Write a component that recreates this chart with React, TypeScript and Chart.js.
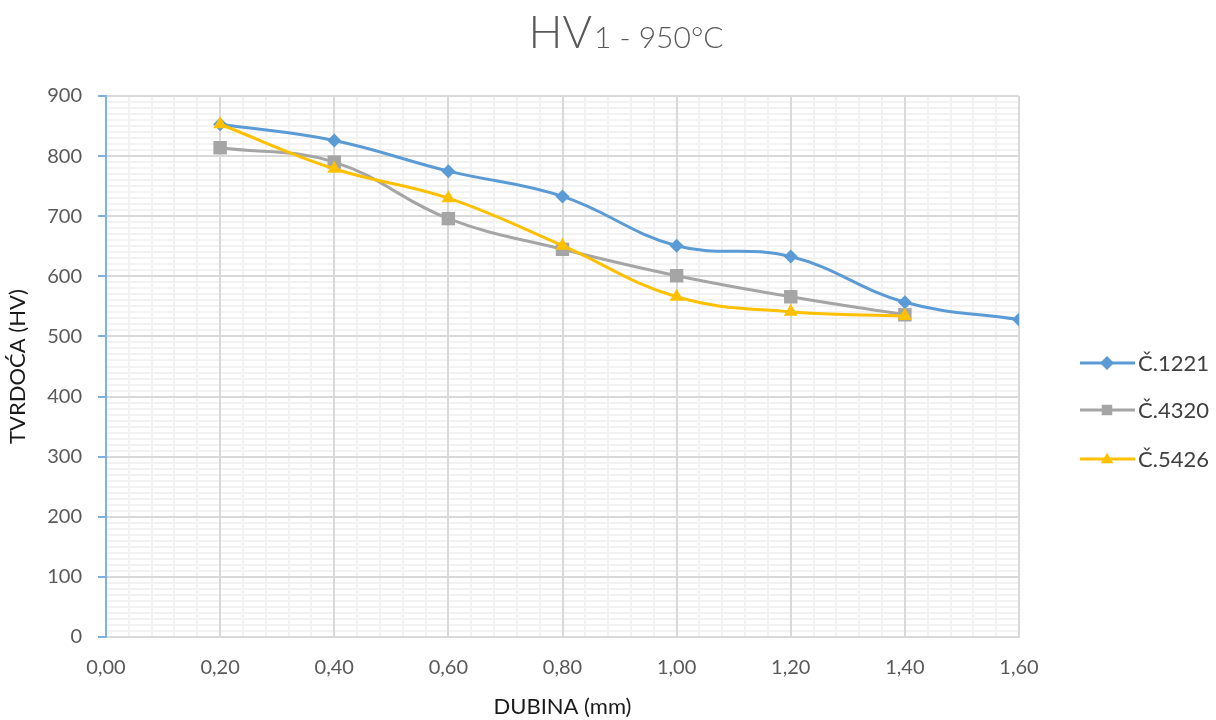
import React, { useEffect, useRef } from "react";
import { Chart, registerables } from "chart.js";

Chart.register(...registerables);

const xValues = [0.2, 0.4, 0.6, 0.8, 1.0, 1.2, 1.4, 1.6];
const seriesNames = ["Č.1221", "Č.4320", "Č.5426"];
const s1221 = [853, 826, 775, 733, 651, 633, 557, 528];
const s4320 = [814, 790, 696, 645, 601, 566, 536];
const s5426 = [853, 779, 730, 651, 566, 541, 534];
const colors = ["#5B9BD5", "#A5A5A5", "#FFC000"];
const markers = ["rectRot", "rect", "triangle"];

const titleMain = "HV";
const titleSub = "1 - 950°C";
const xTitle = "DUBINA (mm)";
const yTitle = "TVRDOĆA (HV)";

const isMajor = (v: number, step: number) => Math.abs(v / step - Math.round(v / step)) < 1e-6;

function drawMarker(ctx: CanvasRenderingContext2D, type: string, x: number, y: number, r: number) {
  ctx.beginPath();
  if (type === "rectRot") {
    ctx.moveTo(x - r, y);
    ctx.lineTo(x, y - r);
    ctx.lineTo(x + r, y);
    ctx.lineTo(x, y + r);
  } else if (type === "rect") {
    const s = r * 0.75;
    ctx.rect(x - s, y - s, 2 * s, 2 * s);
  } else {
    const h = r * 1.5;
    ctx.moveTo(x, y - h * 0.6);
    ctx.lineTo(x + r * 0.9, y + h * 0.4);
    ctx.lineTo(x - r * 0.9, y + h * 0.4);
  }
  ctx.closePath();
  ctx.fill();
}

const majorGridPlugin = {
  id: "majorGrid",
  beforeDatasetsDraw(chart: any) {
    const ctx = chart.ctx as CanvasRenderingContext2D;
    const area = chart.chartArea;
    const xs = chart.scales.x;
    const ys = chart.scales.y;
    ctx.save();
    ctx.strokeStyle = "#d9d9d9";
    ctx.lineWidth = 2;
    xs.ticks.forEach((t: any) => {
      if (!isMajor(t.value, 0.2) || t.value === 0) return;
      const px = Math.round(xs.getPixelForValue(t.value));
      ctx.beginPath();
      ctx.moveTo(px, area.top);
      ctx.lineTo(px, area.bottom);
      ctx.stroke();
    });
    ys.ticks.forEach((t: any) => {
      if (!isMajor(t.value, 100) || t.value === 0) return;
      const py = Math.round(ys.getPixelForValue(t.value));
      ctx.beginPath();
      ctx.moveTo(area.left + 1, py);
      ctx.lineTo(area.right, py);
      ctx.stroke();
    });
    ctx.restore();
  },
};

const overlayPlugin = {
  id: "overlay",
  afterDraw(chart: any) {
    const ctx = chart.ctx as CanvasRenderingContext2D;
    ctx.save();
    ctx.fillStyle = "#595959";
    ctx.textBaseline = "alphabetic";
    ctx.textAlign = "left";
    ctx.font = "300 45px Lato";
    const w1 = ctx.measureText(titleMain).width;
    ctx.font = "300 30px Lato";
    const w2 = ctx.measureText(titleSub).width;
    const gap = 2;
    const start = 626 - (w1 + gap + w2) / 2;
    ctx.font = "300 45px Lato";
    ctx.fillText(titleMain, start, 48);
    ctx.font = "300 30px Lato";
    ctx.fillText(titleSub, start + w1 + gap, 48);

    const ys = [363, 410, 459];
    ctx.font = "22px Lato";
    ctx.textBaseline = "middle";
    seriesNames.forEach((name, i) => {
      const y = ys[i];
      ctx.strokeStyle = colors[i];
      ctx.lineWidth = 3;
      ctx.beginPath();
      ctx.moveTo(1080, y);
      ctx.lineTo(1135, y);
      ctx.stroke();
      ctx.fillStyle = colors[i];
      drawMarker(ctx, markers[i], 1107, y, 7);
      ctx.fillStyle = "#404040";
      ctx.fillText(name, 1138, y + 1);
    });
    ctx.restore();
  },
};

export default function App() {
  const ref = useRef<HTMLCanvasElement | null>(null);

  useEffect(() => {
    document.body.style.margin = "0";
    const canvas = ref.current;
    if (!canvas) return;
    const seriesData = [s1221, s4320, s5426];
    const radii = [7, 9.5, 8];
    const chart = new Chart(canvas, {
      type: "line",
      data: {
        datasets: seriesData.map((s, i) => ({
          label: seriesNames[i],
          data: s.map((y, j) => ({ x: xValues[j], y })),
          borderColor: colors[i],
          backgroundColor: colors[i],
          borderWidth: 3,
          pointStyle: markers[i] as any,
          pointRadius: radii[i],
          pointBorderWidth: 0,
          pointBackgroundColor: colors[i],
          tension: 0.4,
          fill: false,
          order: 2 - i,
        })),
      },
      options: {
        animation: false,
        responsive: true,
        maintainAspectRatio: false,
        layout: { padding: { top: 96, right: 197, left: 0, bottom: 0 } },
        plugins: {
          legend: { display: false },
          title: { display: false },
          tooltip: { enabled: false },
        },
        scales: {
          x: {
            type: "linear",
            min: 0,
            max: 1.6,
            afterFit: (s: any) => {
              s.height = 83;
            },
            ticks: {
              stepSize: 0.04,
              autoSkip: false,
              maxRotation: 0,
              padding: 19,
              color: "#595959",
              font: { family: "Lato", size: 20 },
              callback: (v: any) => (isMajor(Number(v), 0.2) ? Number(v).toFixed(2).replace(".", ",") : ""),
            },
            grid: {
              drawTicks: false,
              color: (c: any) => (c.tick && isMajor(c.tick.value, 0.2) ? "#d9d9d9" : "#f2f2f2"),
              lineWidth: 2,
            },
            border: { color: "#d9d9d9", width: 2 },
            title: {
              display: true,
              text: xTitle,
              color: "#1a1a1a",
              font: { family: "Lato", size: 22 },
              padding: { top: 0, bottom: 0 },
            },
          },
          y: {
            type: "linear",
            min: 0,
            max: 900,
            afterFit: (s: any) => {
              s.width = 106;
            },
            ticks: {
              stepSize: 10,
              autoSkip: false,
              padding: 16,
              color: "#595959",
              font: { family: "Lato", size: 20 },
              callback: (v: any) => (isMajor(Number(v), 100) ? String(Math.round(Number(v))) : ""),
            },
            grid: {
              drawTicks: true,
              tickLength: 8,
              color: (c: any) => (c.tick && isMajor(c.tick.value, 100) ? "#d9d9d9" : "#f2f2f2"),
              tickColor: (c: any) => (c.tick && isMajor(c.tick.value, 100) ? "#7fb0e0" : "rgba(0,0,0,0)"),
              lineWidth: 2,
            },
            border: { color: "#7fb0e0", width: 2 },
            title: {
              display: true,
              text: yTitle,
              color: "#1a1a1a",
              font: { family: "Lato", size: 22 },
              padding: { top: 5, bottom: 0 },
            },
          },
        },
      },
      plugins: [majorGridPlugin, overlayPlugin],
    });
    return () => chart.destroy();
  }, []);

  return (
    <div style={{ width: 1216, height: 720, position: "relative" }}>
      <canvas ref={ref} />
    </div>
  );
}
